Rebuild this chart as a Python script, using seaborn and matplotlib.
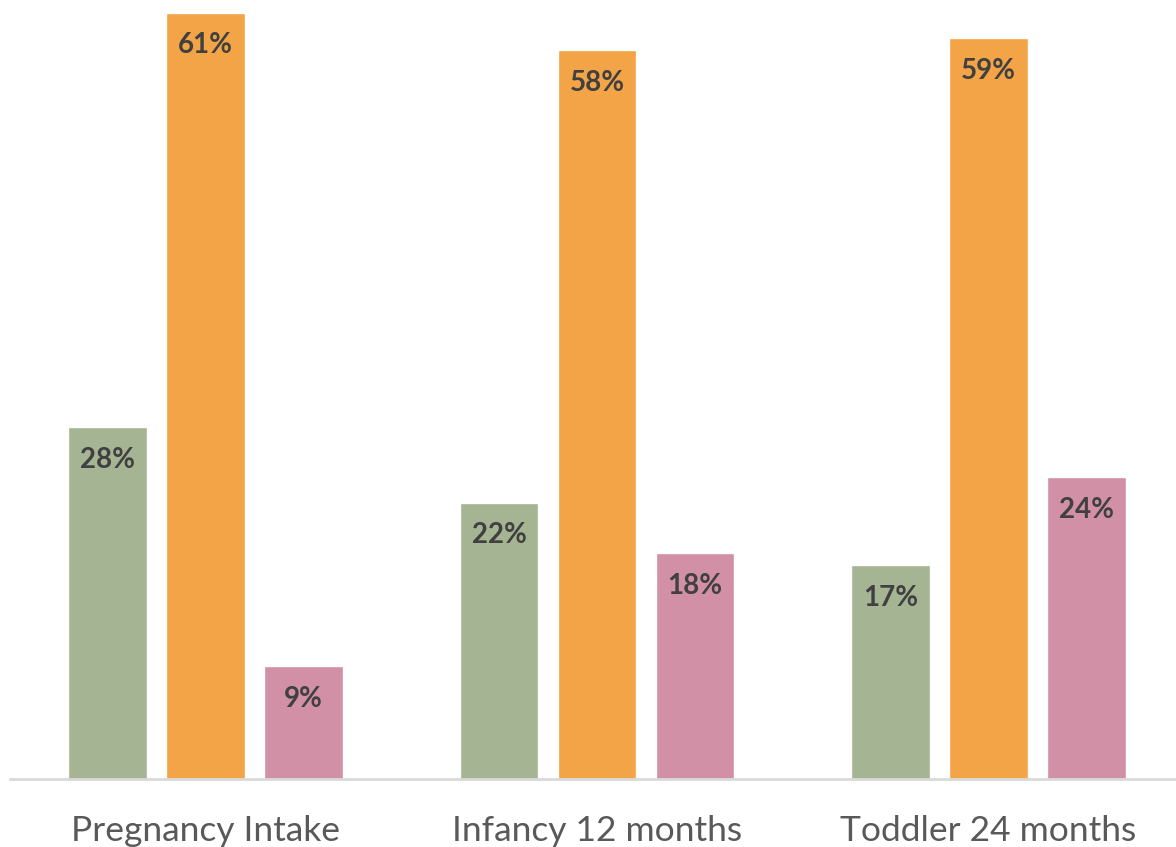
import matplotlib
matplotlib.use("Agg")
import matplotlib.pyplot as plt
import pandas as pd
import seaborn as sns

# data
categories = ["Pregnancy Intake", "Infancy 12 months", "Toddler 24 months"]
series = ["A", "B", "C"]
values_a = [28, 22, 17]
values_b = [61, 58, 59]
values_c = [9, 18, 24]
colors = ["#A5B492", "#F2A447", "#D190A6"]

rows = []
for name, vals in zip(series, [values_a, values_b, values_c]):
    for cat, v in zip(categories, vals):
        rows.append({"category": cat, "series": name, "value": v})
df = pd.DataFrame(rows)

sns.set_style("white")
plt.rcParams["font.family"] = ["Lato", "DejaVu Sans"]

fig = plt.figure(figsize=(11.76, 8.47), dpi=100)
ax = fig.add_axes([9.75 / 1176, 1 - 779 / 847, 1174.5 / 1176, 779 / 847])

sns.barplot(
    data=df, x="category", y="value", hue="series",
    palette=colors, width=0.75, gap=0.2, order=categories,
    hue_order=series, legend=False, ax=ax, saturation=1,
)

# labels inside the top of each bar
for container in ax.containers:
    ax.bar_label(
        container, labels=[f"{int(v)}%" for v in container.datavalues],
        padding=-33, fontsize=20, fontweight="bold", color="#404040",
    )

ax.set_ylim(0, 62)
ax.set_xlim(-0.5, 2.5)
ax.set_xlabel("")
ax.set_ylabel("")
ax.set_yticks([])
ax.tick_params(axis="x", length=0, pad=26, labelsize=25.5, labelcolor="#595959")

for side in ["top", "left", "right"]:
    ax.spines[side].set_visible(False)
ax.spines["bottom"].set_color("#D9D9D9")
ax.spines["bottom"].set_linewidth(2)

fig.savefig("out.png", dpi=100)
